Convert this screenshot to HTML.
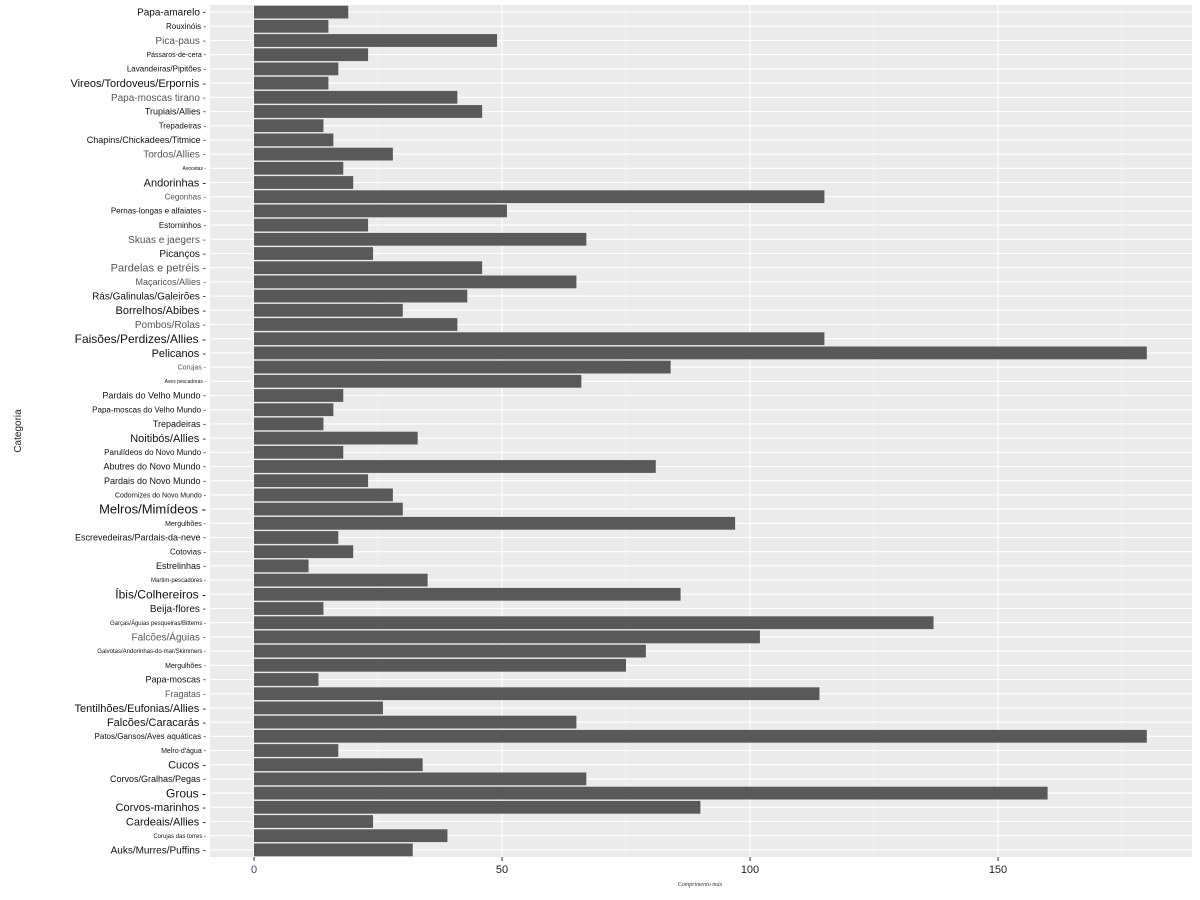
<!DOCTYPE html>
<html><head><meta charset="utf-8"><style>
body{margin:0;background:#fff;}
svg{display:block;font-family:"Liberation Sans","DejaVu Sans",sans-serif;}
</style></head><body>
<svg id="chart" width="1200" height="900"></svg>
<script>
const categories=["Papa-amarelo","Rouxinóis","Pica-paus","Pássaros-de-cera","Lavandeiras/Pipitões","Vireos/Tordoveus/Erpornis","Papa-moscas tirano","Trupiais/Allies","Trepadeiras","Chapins/Chickadees/Titmice","Tordos/Allies","Avocetas","Andorinhas","Cegonhas","Pernas-longas e alfaiates","Estorninhos","Skuas e jaegers","Picanços","Pardelas e petréis","Maçaricos/Allies","Rás/Galinulas/Galeirões","Borrelhos/Abibes","Pombos/Rolas","Faisões/Perdizes/Allies","Pelicanos","Corujas","Aves pescadoras","Pardais do Velho Mundo","Papa-moscas do Velho Mundo","Trepadeiras","Noitibós/Allies","Parulídeos do Novo Mundo","Abutres do Novo Mundo","Pardais do Novo Mundo","Codornizes do Novo Mundo","Melros/Mimídeos","Mergulhões","Escrevedeiras/Pardais-da-neve","Cotovias","Estrelinhas","Martim-pescadores","Íbis/Colhereiros","Beija-flores","Garças/Águias pesqueiras/Bitterns","Falcões/Águias","Gaivotas/Andorinhas-do-mar/Skimmers","Mergulhões","Papa-moscas","Fragatas","Tentilhões/Eufonias/Allies","Falcões/Caracarás","Patos/Gansos/Aves aquáticas","Melro-d'água","Cucos","Corvos/Gralhas/Pegas","Grous","Corvos-marinhos","Cardeais/Allies","Corujas das torres","Auks/Murres/Puffins"];
const values=[19,15,49,23,17,15,41,46,14,16,28,18,20,115,51,23,67,24,46,65,43,30,41,115,180,84,66,18,16,14,33,18,81,23,28,30,97,17,20,11,35,86,14,137,102,79,75,13,114,26,65,180,17,34,67,160,90,24,39,32];
const xTicks=[0,50,100,150];
const labelSizes=[10,8,10,7,8,11,10,9,8,9,10,5,11,8,8,8,10,10,11,9,10,11,10,12,11,7,5,9,8,9,11,8,9,9,7,13,7,9,8,9,6,12,10,6,10,6,7,9,9,11,11,8,7,11,9,12,11,11,6,10];
const fades={2:1,16:1,18:1,19:1,22:1,25:1,13:1,6:1,10:1,48:1,44:1};
const svg=document.getElementById('chart');
const NS="http://www.w3.org/2000/svg";
const pL=210,pR=1192,pT=5,pB=857;
const x0=254,pxPer=4.96;
const xs=v=>x0+v*pxPer;
const step=(pB-pT)/categories.length;
const yc=i=>pT+step*(i+0.5);
function mk(t,a){const e=document.createElementNS(NS,t);for(const k in a)e.setAttribute(k,a[k]);svg.appendChild(e);return e;}
let r=mk('rect',{x:pL,y:pT,width:pR-pL,height:pB-pT,fill:'#ebebeb'});


for(let v=25;v<=175;v+=50){let l=mk('line',{x1:xs(v),x2:xs(v),y1:pT,y2:pB,stroke:'#f5f5f5','stroke-width':0.6});

}
xTicks.forEach(v=>{let l=mk('line',{x1:xs(v),x2:xs(v),y1:pT,y2:pB,stroke:'#fff','stroke-width':1.1});


let tk=mk('line',{x1:xs(v),x2:xs(v),y1:pB,y2:pB+4,stroke:'#333'});


let t=mk('text',{x:xs(v),y:pB+16,'text-anchor':'middle','font-size':11,fill:v===0?'#4b3a8c':'#222'});t.textContent=v;

});
categories.forEach((c,i)=>{
let g=mk('line',{x1:pL,x2:pR,y1:yc(i),y2:yc(i),stroke:'#fff','stroke-width':1.1});


let b=mk('rect',{x:xs(0),y:yc(i)-step*0.45,width:xs(values[i])-xs(0),height:step*0.9,fill:'#595959'});


let t=mk('text',{x:206,y:yc(i)+labelSizes[i]*0.35,'text-anchor':'end','font-size':labelSizes[i],fill:fades[i]?'#555':'#111'});t.textContent=c+' -';


});
let yt=mk('text',{x:0,y:0,transform:'translate(21,431) rotate(-90)','text-anchor':'middle','font-size':10,fill:'#222'});yt.textContent='Categoria';


let xt=mk('text',{x:700,y:886,'text-anchor':'middle','font-size':6,'font-style':'italic','font-family':'Liberation Serif,serif',fill:'#333'});xt.textContent='Comprimento máx';


</script>
</body></html>
